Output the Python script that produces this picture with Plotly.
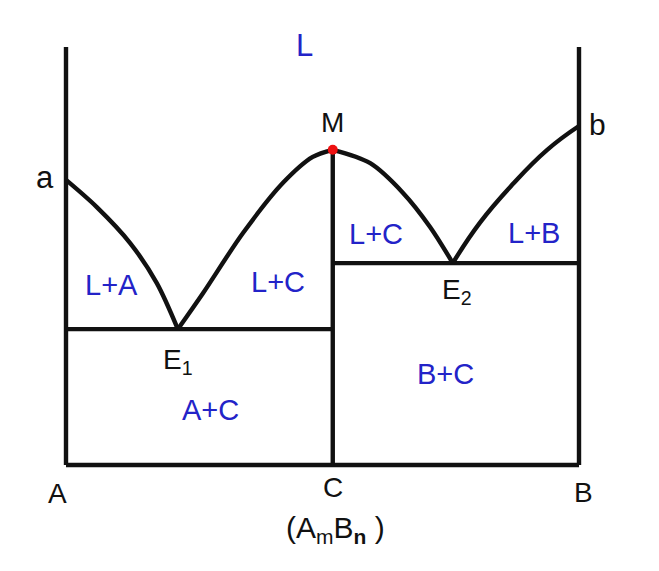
import plotly.graph_objects as go

# Composition (mole fraction of B) and temperature (arbitrary units)
x_C = 0.52
T_top = 100
T_M = 75.4
x_E1, T_E1 = 0.218, 32.5
x_E2, T_E2 = 0.754, 48.3

# Liquidus branches
liq1_x = [0.0, 0.060, 0.125, 0.177, 0.218]
liq1_T = [68.2, 61.7, 53.1, 43.5, 32.5]
liq2_x = [0.218, 0.267, 0.345, 0.423, 0.481, 0.520]
liq2_T = [32.5, 41.1, 55.5, 67.5, 73.7, 75.4]
liq3_x = [0.520, 0.593, 0.657, 0.710, 0.754]
liq3_T = [75.4, 72.2, 65.1, 56.9, 48.3]
liq4_x = [0.754, 0.807, 0.871, 0.938, 1.0]
liq4_T = [48.3, 58.0, 67.2, 75.4, 81.1]

region_labels = ["L", "L+A", "L+C", "L+C", "L+B", "A+C", "B+C"]
region_x = [0.464, 0.088, 0.413, 0.604, 0.912, 0.281, 0.739]
region_T = [100.4, 43.1, 43.7, 55.2, 55.4, 13.1, 21.7]
region_size = [31, 29, 29, 29, 29, 29, 29]

point_labels = ["a", "b", "M", "E<sub>1</sub>", "E<sub>2</sub>", "A", "C", "B",
                "(A<sub>m</sub>B<sub><b>n</b></sub> )"]
point_x = [-0.040, 1.036, 0.52, 0.218, 0.762, -0.016, 0.52, 1.008, 0.525]
point_T = [68.7, 81.5, 82.0, 24.7, 41.5, -6.8, -5.3, -6.5, -15.5]
point_size = [31, 30, 28, 28, 28, 28, 28, 28, 30]

BLACK = "#111111"
BLUE = "#2323c8"
LW = 4.4
FONT = "Liberation Sans, Arial, sans-serif"

fig = go.Figure()

def line(xs, ys, shape="linear", smoothing=0.9):
    fig.add_trace(go.Scatter(x=xs, y=ys, mode="lines",
                             line=dict(color=BLACK, width=LW, shape=shape, smoothing=smoothing),
                             hoverinfo="skip", showlegend=False))

# frame lines
line([0, 0], [0, T_top])
line([1, 1], [0, T_top])
line([0, 1], [0, 0])
line([x_C, x_C], [0, T_M])
line([0, x_C], [T_E1, T_E1])
line([x_C, 1], [T_E2, T_E2])
# liquidus curves
line(liq1_x, liq1_T, "spline")
line(liq2_x, liq2_T, "spline")
line(liq3_x, liq3_T, "spline")
line(liq4_x, liq4_T, "spline", 1.3)

# red congruent melting point
fig.add_trace(go.Scatter(x=[x_C], y=[T_M], mode="markers",
                         marker=dict(color="#ee1111", size=10),
                         hoverinfo="skip", showlegend=False))

for lab, xx, yy, s in zip(region_labels, region_x, region_T, region_size):
    fig.add_annotation(x=xx, y=yy, text=lab, showarrow=False,
                       font=dict(family=FONT, size=s, color=BLUE))

for lab, xx, yy, s in zip(point_labels, point_x, point_T, point_size):
    fig.add_annotation(x=xx, y=yy, text=lab, showarrow=False,
                       font=dict(family=FONT, size=s, color=BLACK))

px_per_x = 513.0
px_per_T = 4.18
off = 8  # page body margin
fig.update_layout(
    width=659, height=571,
    margin=dict(l=0, r=0, t=0, b=0),
    paper_bgcolor="white", plot_bgcolor="white",
    xaxis=dict(range=[(off - 66) / px_per_x, (659 + off - 66) / px_per_x],
               visible=False, fixedrange=True),
    yaxis=dict(range=[(465 - 571 - off) / px_per_T, (465 - off) / px_per_T],
               visible=False, fixedrange=True),
)
fig.write_html("out.html")
